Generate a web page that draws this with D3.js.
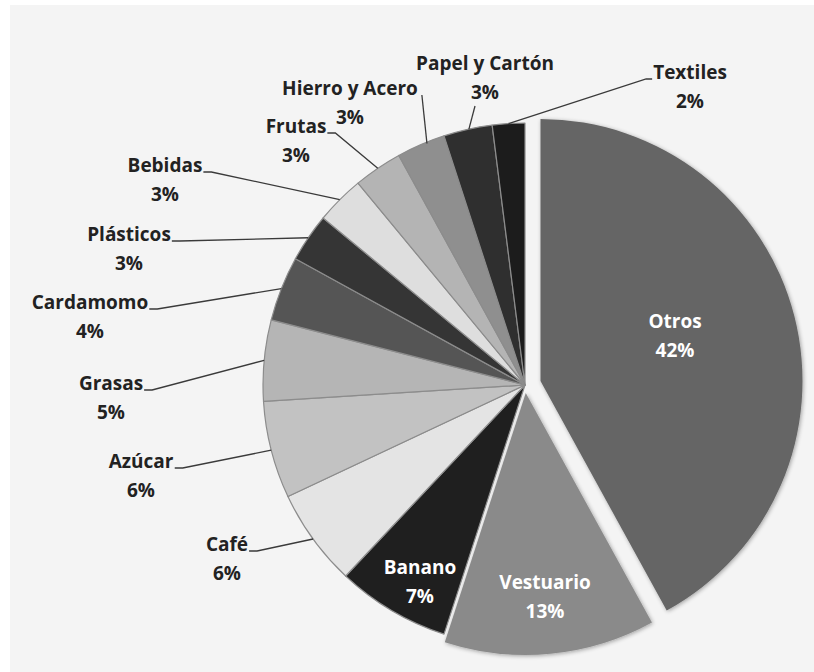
<!DOCTYPE html>
<html>
<head>
<meta charset="utf-8">
<script src="https://cdn.jsdelivr.net/npm/d3@7"></script>
<style>
  html, body { margin: 0; padding: 0; background: #ffffff; }
  svg { display: block; }
</style>
</head>
<body>
<svg id="chart" width="814" height="672"></svg>
<script>
// Export composition by product (share of total, %)
const categories = ["Otros", "Vestuario", "Banano", "Café", "Azúcar", "Grasas", "Cardamomo",
                    "Plásticos", "Bebidas", "Frutas", "Hierro y Acero", "Papel y Cartón", "Textiles"];
const shares = [42, 13, 7, 6, 6, 5, 4, 3, 3, 3, 3, 3, 2];

// Slice styling
const fills = ["#656565", "#8a8a8a", "#1f1f1f", "#e4e4e4", "#c2c2c2", "#b5b5b5", "#555555",
               "#353535", "#dedede", "#b4b4b4", "#8f8f8f", "#2f2f2f", "#1c1c1c"];
const explode = [16, 8, 0, 0, 0, 0, 0, 0, 0, 0, 0, 0, 0];

// Label layout: centre of the name line, leader style, inside/outside
const labelPos = [
  [675, 321], [545, 582], [420, 567], [227, 544], [141, 461], [111, 383], [90, 302],
  [129, 234], [165, 165], [296, 126], [350, 88], [485, 63], [690, 72]
];
const leaderKind = ["none", "none", "none", "right", "right", "right", "right",
                    "right", "right", "right", "corner", "below", "left"];

const width = 814, height = 672;
const cx = 525, cy = 385, R = 262;
const lineGap = 29;

const svg = d3.select("#chart");

// panel background
svg.append("rect").attr("x", 10).attr("y", 5)
  .attr("width", width - 10).attr("height", height - 5).attr("fill", "#f4f4f4");

const defs = svg.append("defs");
const shadow = defs.append("filter").attr("id", "soft")
  .attr("x", "-10%").attr("y", "-10%").attr("width", "120%").attr("height", "120%");
shadow.append("feGaussianBlur").attr("in", "SourceAlpha").attr("stdDeviation", 2.2).attr("result", "b");
shadow.append("feOffset").attr("in", "b").attr("dx", 1).attr("dy", 1).attr("result", "o");
shadow.append("feComponentTransfer").attr("in", "o").attr("result", "s")
  .append("feFuncA").attr("type", "linear").attr("slope", 0.35);
const sm = shadow.append("feMerge");
sm.append("feMergeNode").attr("in", "s");
sm.append("feMergeNode").attr("in", "SourceGraphic");

const pie = d3.pie().sort(null).value(d => d).startAngle(0).endAngle(2 * Math.PI);
const arcs = pie(shares);
const arc = d3.arc().innerRadius(0).outerRadius(R);

const g = svg.append("g").attr("transform", `translate(${cx},${cy})`);

const offsetOf = (d, i) => {
  const mid = (d.startAngle + d.endAngle) / 2;
  return [Math.sin(mid) * explode[i], -Math.cos(mid) * explode[i]];
};

g.selectAll("path.slice")
  .data(arcs)
  .join("path")
  .attr("class", "slice")
  .attr("d", arc)
  .attr("transform", (d, i) => { const o = offsetOf(d, i); return `translate(${o[0]},${o[1]})`; })
  .attr("fill", (d, i) => fills[i])
  .attr("stroke", (d, i) => explode[i] ? "none" : "#8c8c8c")
  .attr("stroke-width", 1.2)
  .attr("stroke-linejoin", "round")
  .attr("filter", (d, i) => explode[i] ? "url(#soft)" : null);

// labels
const labels = svg.append("g").attr("font-family", "'Open Sans', Lato, sans-serif")
  .attr("font-weight", "bold").attr("font-size", 19).attr("text-anchor", "middle");

arcs.forEach((d, i) => {
  const [lx, ly] = labelPos[i];
  const inside = leaderKind[i] === "none";
  const col = inside ? "#ffffff" : "#222222";
  const name = labels.append("text").attr("x", lx).attr("y", ly)
    .attr("dominant-baseline", "central").attr("fill", col).text(categories[i]);
  const pct = labels.append("text").attr("x", lx).attr("y", ly + lineGap)
    .attr("dominant-baseline", "central").attr("fill", col).text(d3.format(".0f")(d.value) + "%");
  if (inside) return;

  // leader line to the slice edge at its mid-angle
  const mid = (d.startAngle + d.endAngle) / 2;
  const ex = cx + Math.sin(mid) * R, ey = cy - Math.cos(mid) * R;
  const nb = name.node().getBBox();
  const pb = pct.node().getBBox();
  let pts;
  const base = ly + 7;
  if (leaderKind[i] === "right") {
    const sx = nb.x + nb.width + 1;
    pts = [[sx, base], [sx + 8, base], [ex, ey]];
  } else if (leaderKind[i] === "left") {
    const sx = nb.x - 1;
    pts = [[sx, base], [sx - 6, base], [ex, ey]];
  } else if (leaderKind[i] === "corner") {
    const sx = nb.x + nb.width + 4;
    pts = [[sx, base], [ex + 6, ey - 1]];
  } else {
    const sx = Math.max(pb.x + 4, Math.min(ex + 3, pb.x + pb.width - 4));
    pts = [[sx, pb.y + pb.height + 1], [ex + 1, ey]];
  }
  svg.append("path")
    .attr("d", d3.line()(pts))
    .attr("fill", "none").attr("stroke", "#3a3a3a").attr("stroke-width", 1.3);
});
</script>
</body>
</html>
